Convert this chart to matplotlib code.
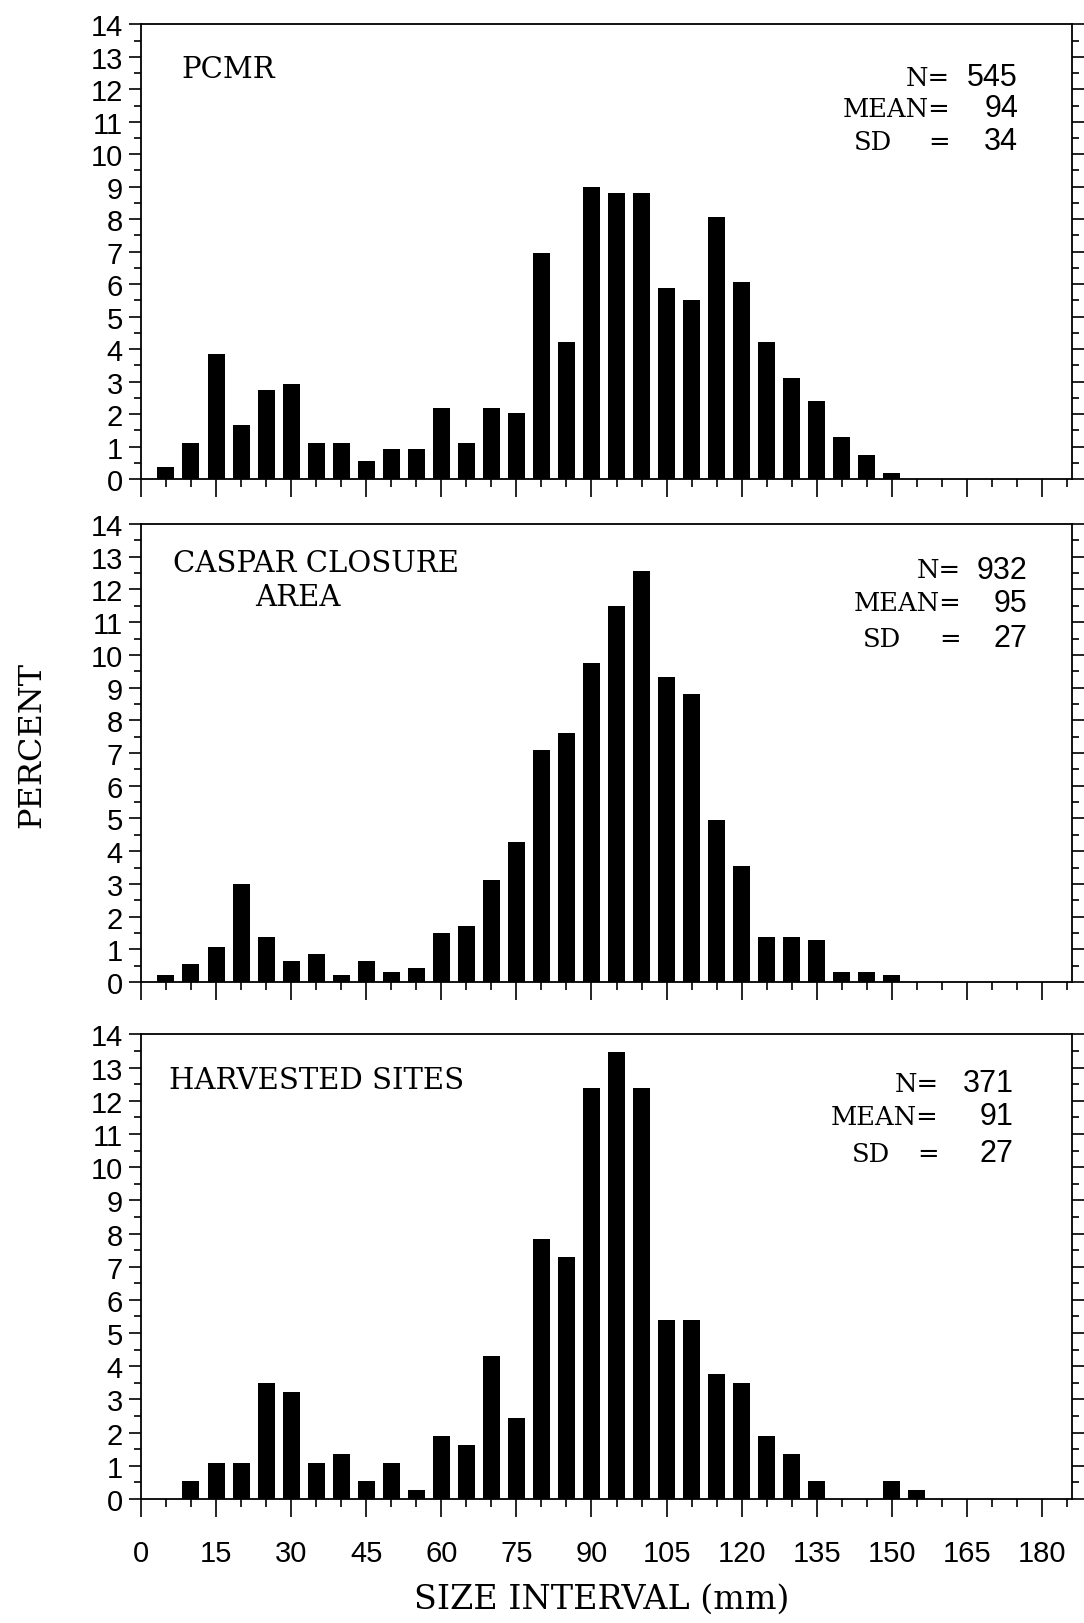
import matplotlib
matplotlib.use("Agg")
import matplotlib.pyplot as plt
from matplotlib.ticker import MultipleLocator

# size classes (mm, bar centres) and percent frequency per panel
sizes_pcmr = [5, 10, 15, 20, 25, 30, 35, 40, 45, 50, 55, 60, 65, 70, 75,
              80, 85, 90, 95, 100, 105, 110, 115, 120, 125, 130, 135, 140, 145, 150]
pct_pcmr = [0.37, 1.10, 3.85, 1.65, 2.75, 2.94, 1.10, 1.10, 0.55, 0.92, 0.92, 2.20, 1.10, 2.20, 2.02,
            6.97, 4.22, 8.99, 8.81, 8.81, 5.87, 5.50, 8.07, 6.06, 4.22, 3.12, 2.39, 1.28, 0.73, 0.18]

sizes_caspar = [5, 10, 15, 20, 25, 30, 35, 40, 45, 50, 55, 60, 65, 70, 75,
                80, 85, 90, 95, 100, 105, 110, 115, 120, 125, 130, 135, 140, 145, 150]
pct_caspar = [0.21, 0.54, 1.07, 3.00, 1.39, 0.64, 0.86, 0.21, 0.64, 0.32, 0.43, 1.50, 1.72, 3.11, 4.29,
              7.08, 7.62, 9.76, 11.48, 12.55, 9.33, 8.80, 4.94, 3.54, 1.39, 1.39, 1.29, 0.32, 0.32, 0.21]

sizes_harvest = [10, 15, 20, 25, 30, 35, 40, 45, 50, 55, 60, 65, 70, 75,
                 80, 85, 90, 95, 100, 105, 110, 115, 120, 125, 130, 135, 140, 145, 150, 155]
pct_harvest = [0.54, 1.08, 1.08, 3.50, 3.23, 1.08, 1.35, 0.54, 1.08, 0.27, 1.89, 1.62, 4.31, 2.43,
               7.82, 7.28, 12.40, 13.48, 12.40, 5.39, 5.39, 3.77, 3.50, 1.89, 1.35, 0.54, 0.0, 0.0, 0.54, 0.27]

site_names = ["PCMR", "CASPAR CLOSURE\nAREA", "HARVESTED SITES"]
stat_n = [545, 932, 371]
stat_mean = [94, 95, 91]
stat_sd = [34, 27, 27]

x_ticks = [0, 15, 30, 45, 60, 75, 90, 105, 120, 135, 150, 165, 180]
y_ticks = [0, 1, 2, 3, 4, 5, 6, 7, 8, 9, 10, 11, 12, 13, 14]

plt.rcParams['font.family'] = ['Liberation Sans', 'DejaVu Sans']
SERIF = ['DejaVu Serif']

fig = plt.figure(figsize=(10.84, 16.24), dpi=100)

# axes boxes in figure fractions: left, bottom, width, height
boxes = [[0.130, 0.7044, 0.859, 0.280],
         [0.130, 0.3947, 0.859, 0.282],
         [0.130, 0.0764, 0.859, 0.286]]
# text anchors in axes fractions: name (x, y), '=' right edge, number right edge, SD left, line ys
name_pos = [(0.043, 0.901), (0.034, 0.915), (0.030, 0.903)]
eq_x = [0.869, 0.881, 0.857]
num_x = [0.942, 0.952, 0.937]
sd_x = [0.766, 0.775, 0.763]
line_y = [(0.884, 0.815, 0.743), (0.900, 0.828, 0.751), (0.895, 0.824, 0.744)]

data = [(sizes_pcmr, pct_pcmr), (sizes_caspar, pct_caspar), (sizes_harvest, pct_harvest)]

for i, (sizes, pct) in enumerate(data):
    ax = fig.add_axes(boxes[i])
    ax.bar(sizes, pct, width=3.4, color='black', linewidth=0)
    ax.set_xlim(0, 186)
    ax.set_ylim(0, 14)
    ax.set_xticks(x_ticks)
    ax.set_yticks(y_ticks)
    ax.xaxis.set_minor_locator(MultipleLocator(5))
    ax.yaxis.set_minor_locator(MultipleLocator(0.5))
    for s in ax.spines.values():
        s.set_linewidth(1.3)
    ax.tick_params(axis='y', which='both', direction='out', left=True, right=True,
                   labelright=False, width=1.2)
    ax.tick_params(axis='y', which='major', length=9, pad=4, labelsize=21)
    ax.tick_params(axis='y', which='minor', length=5)
    ax.tick_params(axis='x', which='both', direction='out', top=False, width=1.2)
    ax.tick_params(axis='x', which='major', length=13, pad=16, labelsize=21)
    ax.tick_params(axis='x', which='minor', length=6)
    if i < 2:
        ax.tick_params(axis='x', labelbottom=False)

    # site name
    if i == 1:
        ax.text(name_pos[i][0], name_pos[i][1], "CASPAR CLOSURE", transform=ax.transAxes,
                ha='left', va='center', fontsize=21, family=SERIF)
        ax.text(0.169, 0.841, "AREA", transform=ax.transAxes,
                ha='center', va='center', fontsize=21, family=SERIF)
    else:
        ax.text(name_pos[i][0], name_pos[i][1], site_names[i], transform=ax.transAxes,
                ha='left', va='center', fontsize=21, family=SERIF)

    # summary statistics
    y1, y2, y3 = line_y[i]
    ax.text(eq_x[i], y1, "N=", transform=ax.transAxes, ha='right', va='center',
            fontsize=18.5, family=SERIF)
    ax.text(eq_x[i], y2, "MEAN=", transform=ax.transAxes, ha='right', va='center',
            fontsize=18.5, family=SERIF)
    ax.text(sd_x[i], y3, "SD", transform=ax.transAxes, ha='left', va='center',
            fontsize=18.5, family=SERIF)
    ax.text(eq_x[i], y3, "=", transform=ax.transAxes, ha='right', va='center',
            fontsize=18.5, family=SERIF)
    for y, v in zip((y1, y2, y3), (stat_n[i], stat_mean[i], stat_sd[i])):
        ax.text(num_x[i], y, str(v), transform=ax.transAxes, ha='right', va='center',
                fontsize=22)

fig.text(0.029, 0.541, "PERCENT", rotation=90, ha='center', va='center',
         fontsize=23, family=SERIF)
fig.text(0.555, 0.015, "SIZE INTERVAL (mm)", ha='center', va='center',
         fontsize=24, family=SERIF)

fig.savefig("out.png", dpi=100)
